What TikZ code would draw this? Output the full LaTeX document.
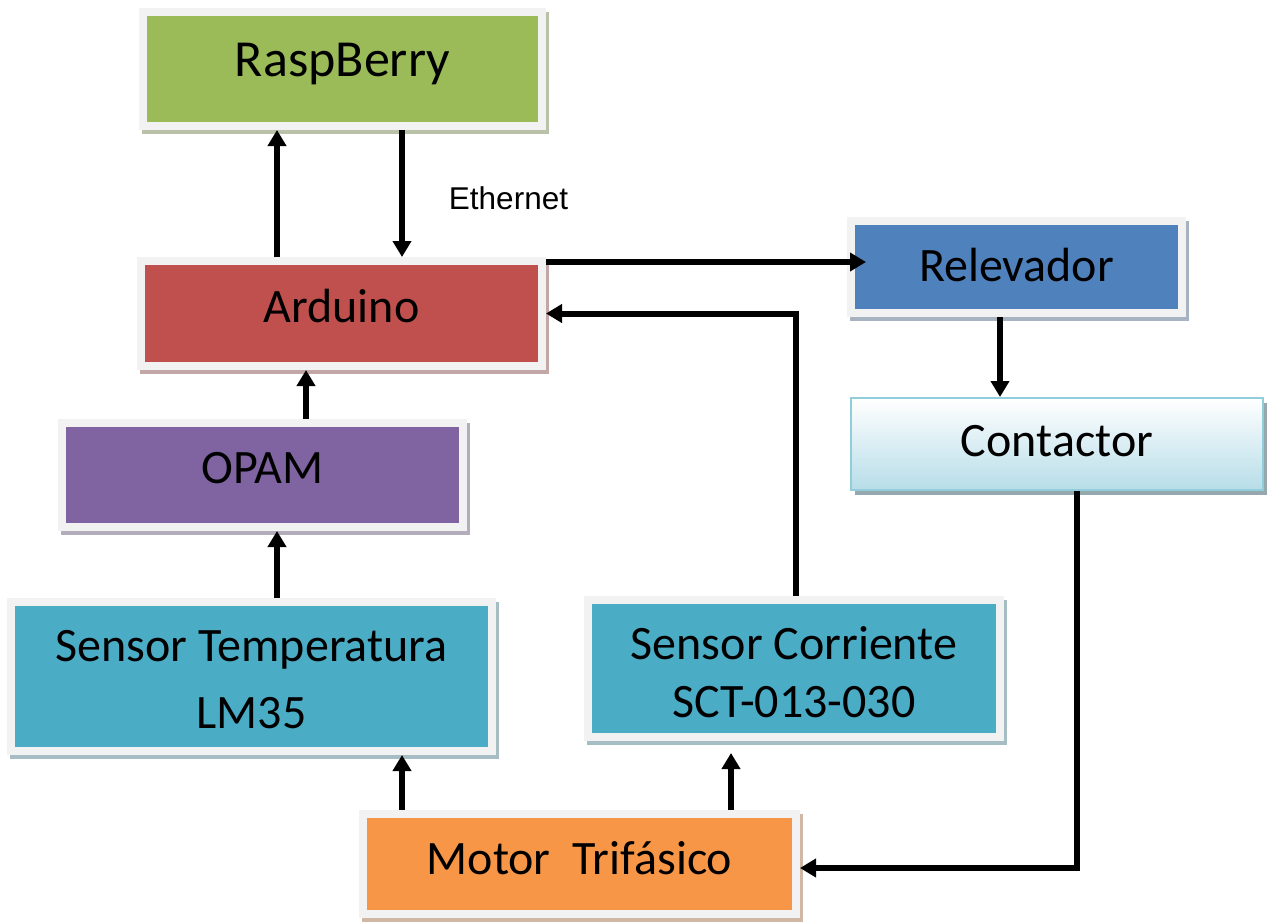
\documentclass[tikz,border=0pt]{standalone}
\usepackage{fontspec}
\setmainfont{Carlito}
\newfontfamily\ethfont{Liberation Sans}
\usetikzlibrary{positioning,shadows,arrows.meta}
\definecolor{rbgreen}{HTML}{9BBB59}
\definecolor{ardred}{HTML}{C0504D}
\definecolor{relblue}{HTML}{4F81BD}
\definecolor{opampurple}{HTML}{8064A2}
\definecolor{senteal}{HTML}{4BACC6}
\definecolor{motorange}{HTML}{F79646}
\definecolor{contline}{HTML}{92CDDC}
\definecolor{contfill}{HTML}{B7DDE8}
\definecolor{contshadow}{HTML}{94A8AE}
\definecolor{framegray}{HTML}{F2F2F2}

\begin{document}
\begin{tikzpicture}[x=1pt,y=-1pt,
  block/.style={draw=framegray,line width=8pt,fill=#1,inner sep=0pt,
    general shadow={fill=#1!40!gray!60!white,draw=#1!40!gray!60!white,line width=8pt,
      shadow xshift=3pt,shadow yshift=-4pt},
    font=\fontsize{48}{58}\selectfont},
  oneline/.style={text height=34pt,text depth=#1},
  link/.style={line width=6pt,->},
  >={Triangle[width=18pt,length=16pt]}]
\useasboundingbox (0,0) rectangle (1271,921);

% blocks
\node[block=rbgreen,font=\fontsize{52}{62}\selectfont,text height=37pt,text depth=21.6pt,minimum width=399pt,minimum height=114pt] (rasp) at (342.5,69) {RaspBerry};
\node[block=ardred,oneline=17pt,minimum width=401pt,minimum height=105pt] (ard) at (341.5,313.5) {Arduino};
\node[block=opampurple,oneline=17pt,minimum width=401pt,minimum height=104pt] (opam) at (262.5,475) {OPAM};
\node[block=senteal,align=center,font=\fontsize{48}{66.6}\selectfont,minimum width=481pt,minimum height=149pt] (temp) at (251.5,676.5) {\rule{0pt}{37pt}Sensor Temperatura\\LM35};
\node[block=senteal,align=center,minimum width=412pt,minimum height=137pt] (corr) at (794,668.5) {\rule{0pt}{41pt}Sensor Corriente\\SCT-013-030};
\node[block=relblue,oneline=6pt,minimum width=331pt,minimum height=92pt] (rel) at (1016.5,267) {Relevador};
\node[draw=contline,line width=2pt,top color=white,bottom color=contfill,inner sep=0pt,
  general shadow={fill=contshadow,shadow xshift=4pt,shadow yshift=-5pt},
  font=\fontsize{48}{58}\selectfont,oneline=10pt,minimum width=412pt,minimum height=92pt] (cont) at (1057,444) {Contactor};
\node[block=motorange,oneline=14pt,minimum width=433pt,minimum height=100pt] (motor) at (579.5,864) {Motor\ \ Trif\'asico};

\node[font=\ethfont\fontsize{31.5}{38}\selectfont] (eth) at (508.5,198) {Ethernet};

% connections
\draw[link] (277,0 |- ard.north) -- (277,0 |- rasp.south);
\draw[link] (402,0 |- rasp.south) -- (402,0 |- ard.north);
\draw[link] ([yshift=51.5pt]ard.east) -- ([xshift=19pt,yshift=5pt]rel.west);
\draw[link] (796,0 |- corr.north) |- (ard.east);
\draw[link] (1000,0 |- rel.south) -- (1000,0 |- cont.north);
\draw[link] (1077,0 |- cont.south) |- ([yshift=-4pt]motor.east);
\draw[link,shorten >=12pt] (731,0 |- motor.north) -- (731,0 |- corr.south);
\draw[link] (402,0 |- motor.north) -- (402,0 |- temp.south);
\draw[link] (277,0 |- temp.north) -- (277,0 |- opam.south);
\draw[link] (306,0 |- opam.north) -- (306,0 |- ard.south);
\end{tikzpicture}
\end{document}
